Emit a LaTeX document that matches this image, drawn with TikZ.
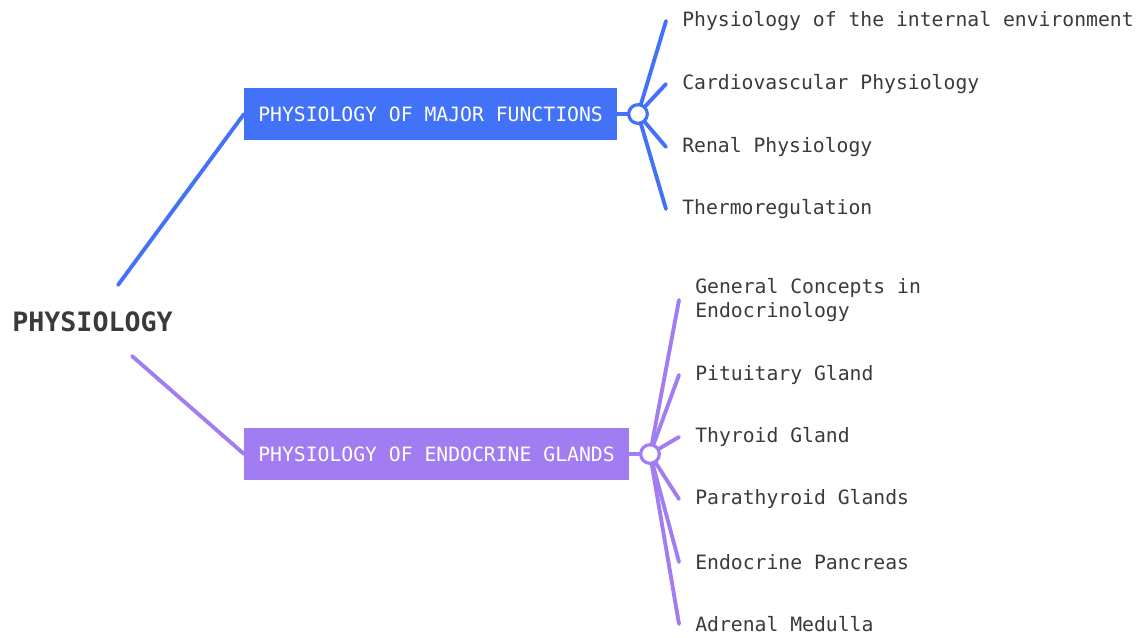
\documentclass[tikz,border=0pt]{standalone}
\usepackage{fontspec}
\newfontfamily\mindfont{DejaVu Sans Mono}
\usetikzlibrary{positioning}
\definecolor{majorblue}{HTML}{4272F8}
\definecolor{endopurple}{HTML}{A27CF1}
\definecolor{leafgray}{HTML}{3A3A3A}
\tikzset{
  topic/.style={fill=#1, text=white, font=\mindfont\fontsize{14.8}{18}\selectfont,
    inner xsep=10.5pt, inner ysep=0pt, minimum height=39pt, anchor=west},
  leaf/.style={text=leafgray, font=\mindfont\fontsize{14.8}{18}\selectfont,
    inner xsep=12pt, inner ysep=0pt, anchor=west, align=left},
  hub/.style={circle, draw=#1, fill=white, line width=2.4pt, minimum size=14pt, inner sep=0pt},
  link/.style={draw=#1, line width=2.9pt, line cap=round},
}
\begin{document}
\begin{tikzpicture}[x=0.75pt, y=-0.75pt]
    \useasboundingbox (0,0) rectangle (1142,637);
    % root
    \node[anchor=west, inner sep=0pt, text=leafgray, font=\mindfont\bfseries\fontsize{20}{24}\selectfont] (root) at (12,322) {PHYSIOLOGY};
    \coordinate (rt) at (118,285);
    \coordinate (rb) at (132,356);
    % main topics
    \node[topic=majorblue] (major) at (244,114) {PHYSIOLOGY OF MAJOR FUNCTIONS};
    \node[topic=endopurple] (endo) at (244,454) {PHYSIOLOGY OF ENDOCRINE GLANDS};
    \coordinate (c1) at (638,114);
    \coordinate (c2) at (650,454);
    \draw[link=majorblue](rt)--(major.west);
    \draw[link=endopurple](rb)--(endo.west);
    % leaves of major functions
    \node[leaf] (m1) at (666,21) {Physiology of the internal environment};
    \node[leaf] (m2) at (666,84) {Cardiovascular Physiology};
    \node[leaf] (m3) at (666,147) {Renal Physiology};
    \node[leaf] (m4) at (666,209) {Thermoregulation};
    % leaves of endocrine glands
    \node[leaf] (e1) at (679,300) {General Concepts in\\Endocrinology};
    \node[leaf] (e2) at (679,375) {Pituitary Gland};
    \node[leaf] (e3) at (679,437) {Thyroid Gland};
    \node[leaf] (e4) at (679,499) {Parathyroid Glands};
    \node[leaf] (e5) at (679,562) {Endocrine Pancreas};
    \node[leaf] (e6) at (679,624) {Adrenal Medulla};
    \draw[link=majorblue](major.east)--(c1);
    \foreach \m in {m1,m2,m3,m4}
        \draw[link=majorblue](c1)--(\m.west);
    \draw[link=endopurple](endo.east)--(c2);
    \foreach \e in {e1,e2,e3,e4,e5,e6}
        \draw[link=endopurple](c2)--(\e.west);
    \node[hub=majorblue] (h1) at (c1) {};
    \node[hub=endopurple] (h2) at (c2) {};
\end{tikzpicture}
\end{document}
